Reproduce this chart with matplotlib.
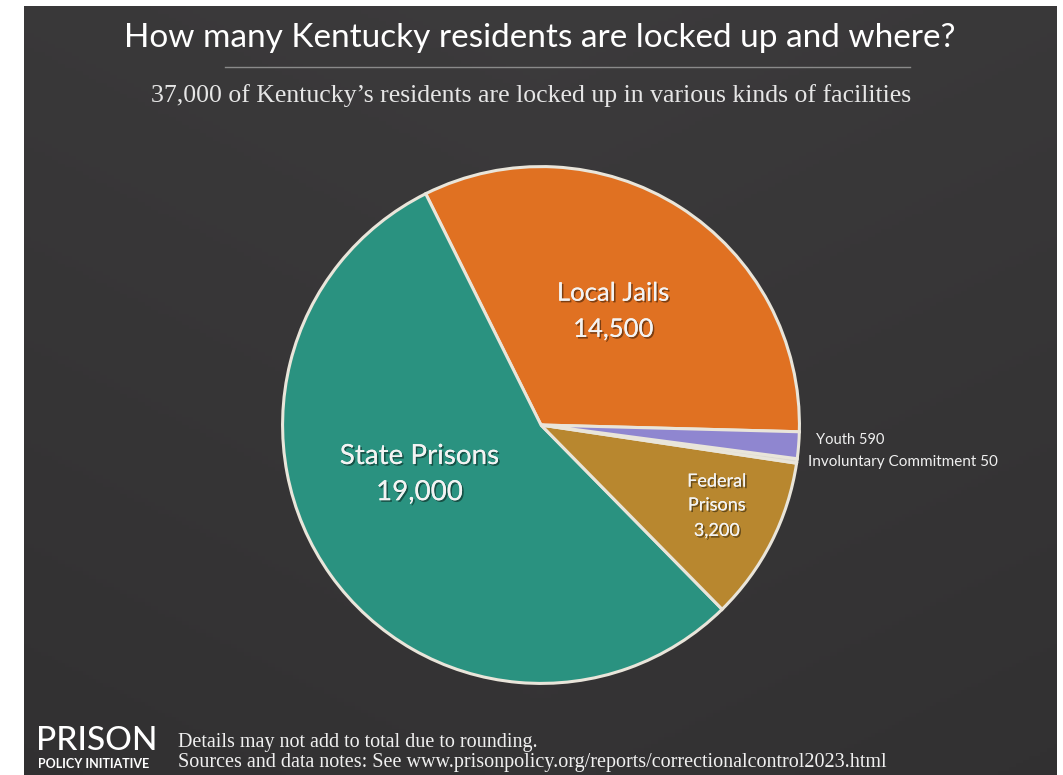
import matplotlib
matplotlib.use("Agg")
import matplotlib.pyplot as plt
import matplotlib.patheffects as pe
import numpy as np

# data
categories = ["Local Jails", "State Prisons", "Federal\nPrisons", "Involuntary Commitment", "Youth"]
residents = [14500, 19000, 3200, 50, 590]
# the slices in the original are not drawn exactly to the labelled numbers,
# so their sizes (in degrees) are read off the drawing itself
slice_degrees = [118, 198, 37, 1, 6]
colors = ["#e07122", "#2a9280", "#b8872f", "#dedad2", "#8f86d0"]

title = "How many Kentucky residents are locked up and where?"
subtitle = "37,000 of Kentucky\u2019s residents are locked up in various kinds of facilities"
notes = ["Details may not add to total due to rounding.",
         "Sources and data notes: See www.prisonpolicy.org/reports/correctionalcontrol2023.html"]

W, H = 1063, 775
fig = plt.figure(figsize=(W / 100, H / 100), dpi=100)
fig.patch.set_facecolor("white")

# dark panel, a bit lighter near the top
bg = fig.add_axes([24 / W, 0, (1057 - 24) / W, (H - 6) / H])
yy, xx = np.mgrid[0:1:200j, 0:1:300j]
shade = 0.235 - 0.03 * yy - 0.02 * np.abs(xx - 0.5)
bg.imshow(np.dstack([shade, shade * 0.98, shade]), aspect="auto", extent=[0, 1, 0, 1])
bg.set_axis_off()

sans = ["Lato", "DejaVu Sans"]
serif = ["Liberation Serif", "DejaVu Serif"]

fig.text(540 / W, 1 - 38 / H, title, ha="center", va="center", color="white",
         fontsize=24, family=sans)
fig.add_artist(plt.Line2D([225 / W, 910 / W], [1 - 67 / H, 1 - 67 / H], color="#8a8a8a", lw=1))
fig.text(531 / W, 1 - 96 / H, subtitle, ha="center", va="center", color="#e6e6e6",
         fontsize=18.5, family=serif)

# pie
cx, cy, r = 541, 425, 261
ax = fig.add_axes([(cx - r) / W, (H - cy - r) / H, 2 * r / W, 2 * r / H])
ax.pie(slice_degrees, colors=colors, startangle=-1.5, counterclock=True,
       wedgeprops=dict(edgecolor="#e9e5da", linewidth=2.2))
ax.set_xlim(-1.01, 1.01)
ax.set_ylim(-1.01, 1.01)
ax.set_aspect("equal")
ax.set_axis_off()

shadow = [pe.withSimplePatchShadow(offset=(1.2, -1.2), shadow_rgbFace="black", alpha=0.45), pe.Normal()]
label_color = "#f3f3f3"

# (x, y of name, y of number, font size) in pie units
spots = [(0.28, 0.51, 0.37, 18.5), (-0.47, -0.12, -0.26, 20)]
for i, (x, y1, y2, size) in enumerate(spots):
    ax.text(x, y1, categories[i], ha="center", va="center", color=label_color,
            fontsize=size, family=sans, path_effects=shadow)
    ax.text(x, y2, f"{residents[i]:,}", ha="center", va="center", color=label_color,
            fontsize=size, family=sans, path_effects=shadow)

ax.text(0.68, -0.265, categories[2], ha="center", va="center", color=label_color,
        fontsize=13, family=sans, path_effects=shadow, linespacing=1.6)
ax.text(0.68, -0.41, f"{residents[2]:,}", ha="center", va="center", color=label_color,
        fontsize=13, family=sans, path_effects=shadow)

fig.text(816 / W, 1 - 440 / H, f"{categories[4]} {residents[4]:,}", ha="left", va="center",
         color="#f0f0f0", fontsize=10.5, family=sans)
fig.text(808 / W, 1 - 462 / H, f"{categories[3]} {residents[3]:,}", ha="left", va="center",
         color="#f0f0f0", fontsize=11, family=sans)

# footer
fig.text(36 / W, 1 - 741 / H, "PRISON", ha="left", va="center", color="white",
         fontsize=24, family=sans, weight="medium")
fig.text(38 / W, 1 - 764 / H, "POLICY INITIATIVE", ha="left", va="center", color="white",
         fontsize=9, family=sans, weight="bold")
fig.text(178 / W, 1 - 742 / H, notes[0], ha="left", va="center", color="#f0f0f0",
         fontsize=14.5, family=serif)
fig.text(178 / W, 1 - 763 / H, notes[1], ha="left", va="center", color="#f0f0f0",
         fontsize=14.5, family=serif)

fig.savefig("out.png", dpi=100, facecolor=fig.get_facecolor())
